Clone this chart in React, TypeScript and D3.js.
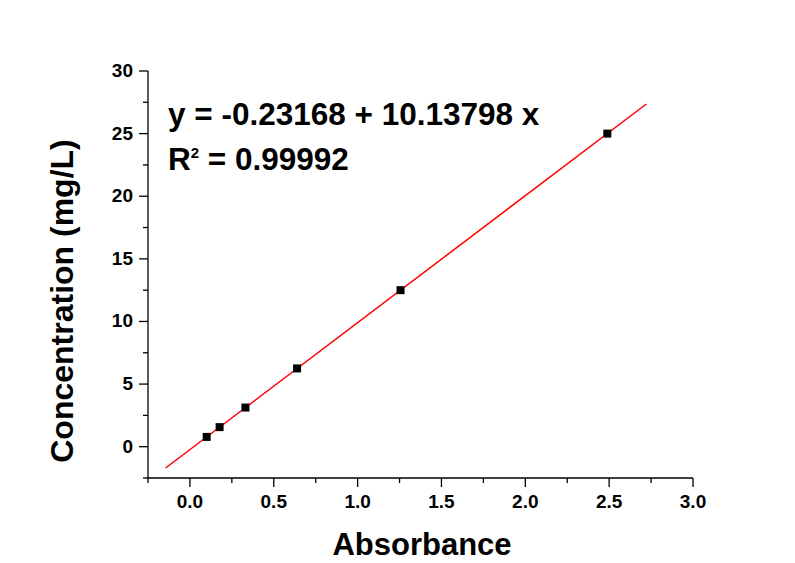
import React from "react";
import * as d3 from "d3";

const absorbance = [0.1, 0.177, 0.331, 0.639, 1.256, 2.489];
const concentration = [0.78125, 1.5625, 3.125, 6.25, 12.5, 25];
const intercept = -0.23168;
const slope = 10.13798;
const fitRange = [-0.145, 2.722];
const xTicks = [0, 0.5, 1.0, 1.5, 2.0, 2.5, 3.0];
const yTicks = [0, 5, 10, 15, 20, 25, 30];

export default function App() {
  const W = 795, H = 563;
  const x = d3.scaleLinear().domain([-0.25, 3.0]).range([148, 693]);
  const y = d3.scaleLinear().domain([-2.5, 30]).range([478, 71]);
  const xMinor = d3.range(-0.25, 3.0001, 0.25).filter(v => Math.abs(v * 2 - Math.round(v * 2)) > 1e-6);
  const yMinor = d3.range(-2.5, 30.0001, 2.5).filter(v => Math.abs(v / 5 - Math.round(v / 5)) > 1e-6);
  const font = "'Liberation Sans', Arial, sans-serif";
  const line = d3.line<number>().x(v => x(v)).y(v => y(intercept + slope * v));
  return (
    <svg width={W} height={H} style={{ position: "absolute", left: 0, top: 0, background: "#fff" }} fontFamily={font}>
      <rect width={W} height={H} fill="#fff" />
      {/* axes */}
      <line x1={x(-0.25)} x2={x(3.0)} y1={478} y2={478} stroke="#000" strokeWidth={1.3} />
      <line x1={148} x2={148} y1={y(-2.5)} y2={y(30)} stroke="#000" strokeWidth={1.3} />
      {xTicks.map(t => (
        <g key={"xt" + t}>
          <line x1={x(t)} x2={x(t)} y1={478} y2={487} stroke="#000" strokeWidth={1.3} />
          <text x={x(t)} y={508} textAnchor="middle" fontSize={19} fontWeight="bold">{t.toFixed(1)}</text>
        </g>
      ))}
      {xMinor.map(t => (
        <line key={"xm" + t} x1={x(t)} x2={x(t)} y1={478} y2={483} stroke="#000" strokeWidth={1.3} />
      ))}
      {yTicks.map(t => (
        <g key={"yt" + t}>
          <line x1={139} x2={148} y1={y(t)} y2={y(t)} stroke="#000" strokeWidth={1.3} />
          <text x={133} y={y(t) + 6} textAnchor="end" fontSize={19} fontWeight="bold">{t}</text>
        </g>
      ))}
      {yMinor.map(t => (
        <line key={"ym" + t} x1={143} x2={148} y1={y(t)} y2={y(t)} stroke="#000" strokeWidth={1.3} />
      ))}
      {/* fit line */}
      <path d={line(fitRange) || ""} stroke="#f00" strokeWidth={1.5} fill="none" />
      {/* points */}
      {absorbance.map((a, i) => (
        <rect key={"p" + i} x={x(a) - 4} y={y(concentration[i]) - 4} width={8} height={8} fill="#000" />
      ))}
      {/* equation */}
      <text x={168} y={125} fontSize={31.5} fontWeight="bold">y = -0.23168 + 10.13798 x</text>
      <text x={168} y={170} fontSize={31.5} fontWeight="bold">R<tspan dy={-12} fontSize={15}>2</tspan><tspan dy={12}> = 0.99992</tspan></text>
      {/* axis titles */}
      <text x={422} y={555} textAnchor="middle" fontSize={31} fontWeight="bold">Absorbance</text>
      <text transform={`translate(73,${301}) rotate(-90)`} textAnchor="middle" fontSize={32} fontWeight="bold">Concentration (mg/L)</text>
    </svg>
  );
}
